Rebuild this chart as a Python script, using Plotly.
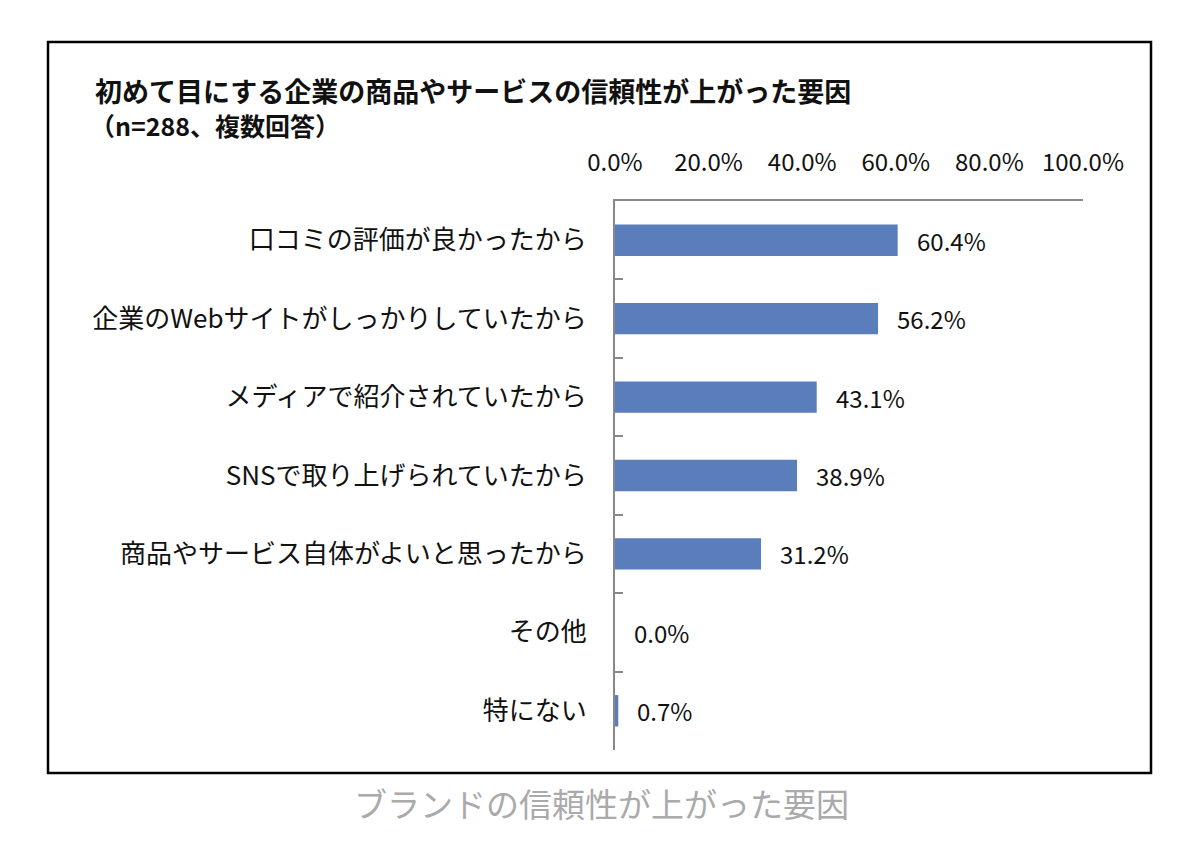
import plotly.graph_objects as go

categories = ["口コミの評価が良かったから", "企業のWebサイトがしっかりしていたから", "メディアで紹介されていたから",
              "SNSで取り上げられていたから", "商品やサービス自体がよいと思ったから", "その他", "特にない"]
values = [60.4, 56.2, 43.1, 38.9, 31.2, 0.0, 0.7]
tick_vals = [0, 20, 40, 60, 80, 100]
tick_text = ["0.0%", "20.0%", "40.0%", "60.0%", "80.0%", "100.0%"]

FONT = "Noto Sans CJK JP"

# page has an 8px body margin, so work in figure pixels = page pixels - 8
OFF = 8
W, H = 1184, 843
L, R, T, B = 615 - OFF, 1083 - OFF, 201 - OFF, 750 - OFF
pw, ph = R - L, B - T

def px_x(x):
    return (x - OFF - L) / pw

def px_y(y):
    return (B - (y - OFF)) / ph

fig = go.Figure()
fig.add_trace(go.Bar(
    x=values, y=categories, orientation="h",
    marker=dict(color="#5A7EBB", line=dict(width=0)),
    width=0.4,
))

for v, c in zip(values, categories):
    fig.add_annotation(x=v, y=c, text=f"{v:.1f}%", showarrow=False,
                       xanchor="left", xshift=17,
                       font=dict(family=FONT, size=24, color="#111"))

# outer frame
fig.add_shape(type="rect", xref="paper", yref="paper",
              x0=px_x(48), x1=px_x(1151), y0=px_y(773), y1=px_y(42),
              line=dict(color="black", width=2.5), layer="below")

fig.add_annotation(xref="paper", yref="paper", x=px_x(93), y=px_y(90),
                   text="<b>初めて目にする企業の商品やサービスの信頼性が上がった要因</b>",
                   showarrow=False, xanchor="left", yanchor="middle",
                   font=dict(family=FONT, size=27, color="#111"))
fig.add_annotation(xref="paper", yref="paper", x=px_x(88), y=px_y(125),
                   text="<b>（n=288、複数回答）</b>",
                   showarrow=False, xanchor="left", yanchor="middle",
                   font=dict(family=FONT, size=25, color="#111"))
fig.add_annotation(xref="paper", yref="paper", x=px_x(601), y=px_y(803),
                   text="ブランドの信頼性が上がった要因",
                   showarrow=False, xanchor="center", yanchor="middle",
                   font=dict(family=FONT, size=33, color="#aaa"))

fig.update_layout(
    width=W, height=H,
    margin=dict(l=L, r=W - R, t=T, b=H - B),
    paper_bgcolor="white", plot_bgcolor="white",
    showlegend=False,
    font=dict(family=FONT, size=24, color="#111"),
    xaxis=dict(range=[0, 100], side="top", tickvals=tick_vals, ticktext=tick_text,
               showgrid=False, zeroline=False, showline=True, linecolor="#888",
               linewidth=2, ticks="", ticklabelstandoff=18,
               tickfont=dict(family=FONT, size=24, color="#111")),
    yaxis=dict(autorange="reversed", showgrid=False, zeroline=False, showline=True,
               linecolor="#888", linewidth=2, ticks="inside", ticklen=8,
               tickcolor="#888", tickwidth=2, tickson="boundaries",
               ticklabelstandoff=21,
               tickfont=dict(family=FONT, size=26, color="#111")),
)

fig.write_html("out.html")
